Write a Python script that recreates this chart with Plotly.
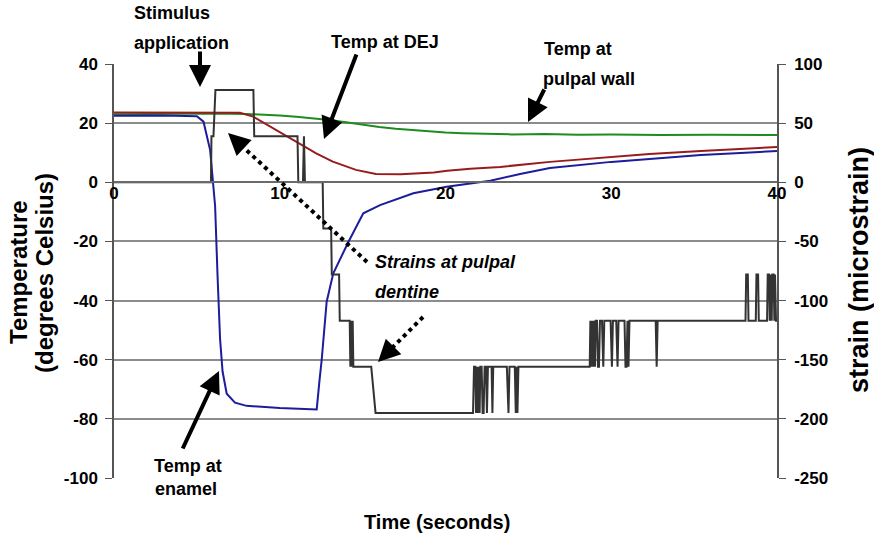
import plotly.graph_objects as go

# ---------------------------------------------------------------------------
# Data: temperature (deg C) at three sites and strain (microstrain) vs time (s)
# ---------------------------------------------------------------------------
pulpal_t = [0, 2, 4, 6, 8, 9, 10, 11, 12, 13, 14, 15, 16, 17, 18, 19, 20, 21,
            22, 24, 26, 28, 30, 33, 36, 40]
pulpal_temp = [23.0, 23.1, 23.2, 23.3, 23.1, 22.9, 22.6, 22.2, 21.7, 21.1, 20.3,
               19.4, 18.7, 18.1, 17.6, 17.2, 16.8, 16.6, 16.4, 16.2, 16.3, 16.1,
               16.2, 16.0, 16.1, 16.0]

dej_t = [0, 3, 6, 7.6, 8.4, 9.8, 11.2, 12.2, 13.2, 14.6, 15.8, 17.3, 19.3, 20.1,
         21.5, 23.3, 26.3, 30, 32.3, 35.4, 37.8, 40]
dej_temp = [23.6, 23.6, 23.7, 23.5, 22.2, 17.7, 13.2, 9.8, 7.0, 4.2, 2.8, 2.7,
            3.3, 3.9, 4.6, 5.2, 6.9, 8.6, 9.6, 10.6, 11.3, 11.9]

enamel_t = [0, 3, 5.0, 5.4, 5.8, 6.1, 6.25, 6.4, 6.55, 6.8, 7.3, 8, 10, 12.0,
            12.23, 12.4, 12.53, 12.83, 13.23, 14.14, 15.04, 16.05, 18.06, 20.07,
            22.7, 24.5, 26.3, 30, 32.3, 35.4, 37.8, 40]
enamel_temp = [22.5, 22.6, 22.3, 20.5, 10.9, -8.0, -32.0, -53.0, -64.0, -71.5,
               -74.5, -75.6, -76.3, -76.8, -76.8, -66.9, -60.1, -40.4, -30.8,
               -20.2, -10.5, -7.7, -3.7, -1.5, 0.5, 2.8, 4.8, 6.9, 7.9, 9.2, 9.9,
               10.6]

strain_t = [0, 5.85, 5.88, 6.0, 6.12, 8.41, 8.46, 11.07, 11.12, 11.40, 11.46,
            11.52, 12.59, 12.63, 13.10, 13.14, 13.58, 13.62, 14.22, 14.26, 14.30,
            14.34, 14.40, 14.44, 14.50, 15.52, 15.78,
            21.66, 21.72, 21.80, 21.84, 21.88, 21.96, 22.00, 22.06, 22.10, 22.18,
            22.24, 22.30, 22.36, 22.44, 22.50, 22.56, 22.78, 22.83, 22.88, 23.70,
            23.76, 23.80, 23.86, 24.18, 24.24, 24.28, 24.34, 24.40,
            28.70, 28.74, 28.80, 28.84, 28.90, 28.94, 29.02, 29.06, 29.14, 29.20,
            29.26, 29.32, 29.44, 29.52, 29.58, 29.96, 30.04, 30.10, 30.30, 30.38,
            30.44, 30.80, 30.86, 30.92, 30.98, 31.04, 31.10,
            32.68, 32.74, 32.80,
            38.10, 38.14, 38.24, 38.28, 38.72, 38.76, 38.86, 38.90, 39.40, 39.44,
            39.52, 39.56, 39.60, 39.68, 39.72, 39.80, 39.84, 39.88, 39.94, 40.0]
strain_val = [0, 0, 39, 39, 78, 78, 39, 39, 0, 0, 39,
              0, 0, -39, -39, -78, -78, -117, -117, -156, -117,
              -156, -117, -156, -156, -156, -195,
              -195, -156, -156, -195, -156, -195, -156, -195, -156, -156,
              -195, -195, -156, -156, -195, -156, -156, -195, -156, -156,
              -195, -195, -156, -156, -195, -156, -195, -156,
              -156, -117, -156, -117, -156, -117, -156, -117, -117, -156,
              -156, -117, -117, -156, -117, -117, -156, -117, -117, -156,
              -117, -117, -156, -156, -117, -156, -117,
              -117, -156, -117,
              -117, -78, -78, -117, -117, -78, -78, -117, -117, -78,
              -78, -117, -78, -117, -78, -78, -117, -78, -117, -117]

time_ticks = [0, 10, 20, 30, 40]
temp_ticks = [-100, -80, -60, -40, -20, 0, 20, 40]
strain_ticks = [-250, -200, -150, -100, -50, 0, 50, 100]

# ---------------------------------------------------------------------------
# Layout geometry (pixels) used to place the callouts
# ---------------------------------------------------------------------------
W, H = 874, 539
PL, PR, PT, PB = 114, 777, 64, 478
FONT = "Liberation Sans, Arial, sans-serif"


def px(x):
    return (x - PL) / (PR - PL)


def py(y):
    return (PB - y) / (PB - PT)


def tick_text(values):
    # plain hyphen for negative numbers
    return [str(v) for v in values]


fig = go.Figure()

fig.add_trace(go.Scatter(x=strain_t, y=strain_val, mode="lines", yaxis="y2",
                         line=dict(color="#333333", width=2),
                         name="Strain", showlegend=False))
fig.add_trace(go.Scatter(x=pulpal_t, y=pulpal_temp, mode="lines",
                         line=dict(color="#1e8c1e", width=2),
                         name="Temp at pulpal wall", showlegend=False))
fig.add_trace(go.Scatter(x=dej_t, y=dej_temp, mode="lines",
                         line=dict(color="#981c1c", width=2),
                         name="Temp at DEJ", showlegend=False))
fig.add_trace(go.Scatter(x=enamel_t, y=enamel_temp, mode="lines",
                         line=dict(color="#1c1c9c", width=2),
                         name="Temp at enamel", showlegend=False))

tick_font = dict(family=FONT, size=17, color="black", weight="bold")

fig.update_layout(
    width=W, height=H, autosize=False,
    margin=dict(l=PL, r=W - PR, t=PT, b=H - PB, pad=0),
    paper_bgcolor="white", plot_bgcolor="white",
    xaxis=dict(range=[0, 40], tickvals=time_ticks,
               ticktext=tick_text(time_ticks), anchor="free",
               position=py(182.3), showgrid=False, zeroline=False,
               showline=True, linecolor="#6a6a6a", linewidth=1.5,
               ticks="", tickfont=tick_font, ticklabelstandoff=-4),
    yaxis=dict(range=[-100, 40], tickvals=temp_ticks,
               ticktext=tick_text(temp_ticks), showgrid=True,
               gridcolor="#8c8c8c", gridwidth=1.5, zeroline=False,
               showline=True, linecolor="#555555", linewidth=1.5,
               ticks="outside", ticklen=7, tickcolor="#555555",
               tickfont=tick_font, ticklabelstandoff=4),
    yaxis2=dict(range=[-250, 100], tickvals=strain_ticks,
                ticktext=tick_text(strain_ticks), overlaying="y",
                side="right", showgrid=False, zeroline=False,
                showline=True, linecolor="#555555", linewidth=1.5,
                ticks="outside", ticklen=7, tickcolor="#555555",
                tickfont=tick_font, ticklabelstandoff=5),
)

ann = []


def label(text, x, y, size=18, xanchor="left", italic=False, angle=0):
    t = f"<b><i>{text}</i></b>" if italic else f"<b>{text}</b>"
    ann.append(dict(text=t, x=px(x), y=py(y), xref="paper", yref="paper",
                    xanchor=xanchor, yanchor="middle", showarrow=False,
                    textangle=angle,
                    font=dict(family=FONT, size=size, color="black")))


def arrow(tail, tip, width=4, size=1.1):
    ann.append(dict(text="", x=px(tip[0]), y=py(tip[1]), xref="paper",
                    yref="paper", ax=tail[0] - tip[0], ay=tail[1] - tip[1],
                    axref="pixel", ayref="pixel", showarrow=True,
                    arrowhead=2, arrowsize=size, arrowwidth=width,
                    arrowcolor="black", standoff=0, startstandoff=0))


# Callout texts
label("Stimulus", 132, 13)
label("application", 132, 43)
label("Temp at DEJ", 329, 42)
label("Temp at", 542, 49)
label("pulpal wall", 541, 79)
label("Strains at pulpal", 373, 262, italic=True)
label("dentine", 373, 292, italic=True)
label("Temp at", 152, 466)
label("enamel", 153, 489)

# Axis titles
label("Time (seconds)", 437, 522, size=20, xanchor="center")
label("Temperature", 18, 272, size=24, xanchor="center", angle=-90)
label("(degrees Celsius)", 44, 273, size=24, xanchor="center", angle=-90)
label("strain (microstrain)", 859, 270, size=27, xanchor="center", angle=-90)

# Solid arrows
arrow((200, 50), (200, 87))
arrow((357, 53), (324, 139))
arrow((545, 88), (528, 122))
arrow((182, 450), (219, 371))

# Dotted arrows: dotted shaft as a shape, solid head as an annotation
shapes = []
for tail, tip in [((367, 262), (228, 133)), ((423, 317), (378, 362))]:
    dx, dy = tip[0] - tail[0], tip[1] - tail[1]
    n = (dx * dx + dy * dy) ** 0.5
    ux, uy = dx / n, dy / n
    end = (tip[0] - ux * 12, tip[1] - uy * 12)
    shapes.append(dict(type="line", xref="paper", yref="paper",
                       x0=px(tail[0]), y0=py(tail[1]),
                       x1=px(end[0]), y1=py(end[1]),
                       line=dict(color="black", width=4, dash="4px,4px")))
    arrow((tip[0] - ux * 16, tip[1] - uy * 16), tip)

fig.update_layout(annotations=ann, shapes=shapes)

fig.write_html("out.html")
